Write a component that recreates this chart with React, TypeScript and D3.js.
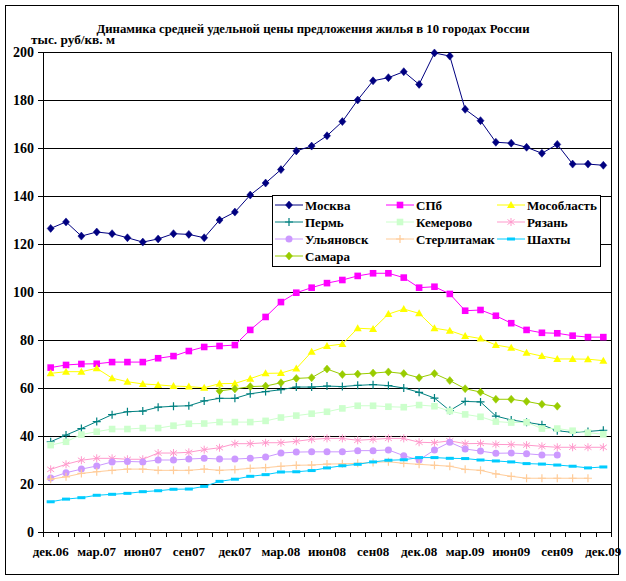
import React from "react";
import * as d3 from "d3";

const categories = [
  "дек.06","янв.07","фев.07","мар.07","апр.07","май.07","июн07","июл.07","авг.07","сен07","окт.07","ноя.07",
  "дек07","янв.08","фев.08","мар.08","апр.08","май.08","июн08","июл.08","авг.08","сен08","окт.08","ноя.08",
  "дек.08","янв.09","фев.09","мар.09","апр.09","май.09","июн09","июл.09","авг.09","сен09","окт.09","ноя.09","дек.09",
];
const tickLabels = ["дек.06","мар.07","июн07","сен07","дек07","мар.08","июн08","сен08","дек.08","мар.09","июн09","сен09","дек.09"];
const yTicks = [0, 20, 40, 60, 80, 100, 120, 140, 160, 180, 200];

const moscow = [126.5,129.2,123.3,125,124.3,122.6,120.8,122.1,124.3,124,122.6,130,133.3,140.4,145.4,151,158.8,160.8,165.1,171,180,188,189.3,191.8,186.5,199.6,198.3,176.1,171.4,162.4,162,160.3,157.8,161.5,153.3,153.3,152.8];
const spb = [68.5,69.6,70,70.1,70.8,70.8,70.8,72.4,73.3,75.4,77.1,77.5,77.9,84.2,89.6,95.8,99.7,101.8,103.7,105,106.7,107.8,107.8,106,101.8,102.2,99.2,92.2,92.5,90.1,87,84.2,83,82.8,81.8,81.2,81.2];
const mosobl = [66.1,66.8,66.8,68.2,64.1,62.6,61.7,61.3,60.8,60.6,60.1,61.8,61.9,63.9,66.1,66.2,68.1,75.1,77.5,78.3,84.9,84.6,90.8,92.9,91.1,84.9,83.9,81.7,80.6,77.9,76.8,74.7,73.3,72.1,72.1,72,71.4];
const perm = [37.6,40.4,43.1,46,48.9,50.1,50.4,52,52.4,52.6,54.6,55.7,55.7,57.6,58.5,59.3,60.4,60.4,60.8,60.6,61.1,61.4,61,60,58.2,55.8,50.6,54.4,54.2,48.3,46.7,45.7,44.7,42.2,41.5,41.9,42.4];
const kemerovo = [36.2,37.6,40.6,41.8,42.9,42.9,43.3,43.3,44.3,45.1,45.2,45.8,45.8,45.8,46.3,47.7,48.5,49.3,50.1,51.5,52.6,52.6,52.2,52,52.9,52.4,50.4,49,48,46,45.6,45.7,43.1,43.1,42.2,41.4,40.7];
const ryazan = [26.1,28.2,29.9,30.7,30.7,30.3,30.3,32.9,32.9,33.2,34.3,35.1,36.8,36.8,37.2,37.2,37.8,38.6,39,39,38.2,38.6,39,39,37.4,37.2,38,36.8,36.9,36.5,36.4,36.2,35.7,35.3,35.3,35.3,35.3];
const ulyanovsk = [22.5,24.7,26.2,27.5,29.2,29.4,29.2,30,30,30.4,30.7,30.4,30.4,30.7,31.2,32.9,33.3,33.4,33.4,33.4,33.9,33.9,34.2,31.8,30,34.2,37.4,34.6,33.7,32.8,32.9,32.6,32.1,32.1,null,null,null];
const sterlitamak = [22,23,24.4,25.1,25.7,26.2,26.2,25.7,25.7,25.7,26.2,25.7,26,26.5,26.8,27.4,27.8,27.9,28.3,28.4,28.6,29,29.3,28.6,28.2,27.8,27.4,26.1,25.7,24.2,23.2,22.4,22.4,22.4,22.4,22.4,null];
const shakhty = [12.6,13.7,14.3,15.3,15.7,16.1,16.8,17.2,17.8,17.9,19,21.1,22,23.2,23.9,25,25.1,25.6,26.7,27.6,28.2,29.2,29.9,30.1,31,31,30.7,30.6,30,29.6,29.2,28.5,28.3,27.9,27.4,26.7,27.1];
const samara = [null,null,null,null,null,null,null,null,null,null,null,58.8,59.6,60.6,60.8,62.2,64,64.3,67.9,65.6,65.8,66.2,66.7,66,64.3,66,63.1,59.7,58.3,55.3,55.3,54.4,53.2,52.4,null,null,null];

type Shape = "diamond" | "square" | "triangle" | "plus" | "star" | "circle" | "dash";
const seriesNames = ["Москва","СПб","Мособласть","Пермь","Кемерово","Рязань","Ульяновск","Стерлитамак","Шахты","Самара"];
const seriesValues = [moscow, spb, mosobl, perm, kemerovo, ryazan, ulyanovsk, sterlitamak, shakhty, samara];
const seriesColors = ["#000080","#FF00FF","#FFFF00","#008080","#CCFFCC","#FF99CC","#CC99FF","#FFCC99","#00CCFF","#99CC00"];
const seriesShapes: Shape[] = ["diamond","square","triangle","plus","square","star","circle","plus","dash","diamond"];

const FONT = '"Liberation Serif", "Times New Roman", serif';

function Marker({ shape, x, y, color }: { shape: Shape; x: number; y: number; color: string }) {
  switch (shape) {
    case "diamond":
      return <path d={`M${x},${y - 4}L${x + 3.5},${y}L${x},${y + 4}L${x - 3.5},${y}Z`} fill={color} stroke={color} strokeWidth={0.5} />;
    case "square":
      return <rect x={x - 3.3} y={y - 3.3} width={6.6} height={6.6} fill={color} />;
    case "triangle":
      return <path d={`M${x},${y - 4}L${x + 4},${y + 3}L${x - 4},${y + 3}Z`} fill={color} />;
    case "plus":
      return <path d={`M${x - 4},${y}H${x + 4}M${x},${y - 4}V${y + 4}`} stroke={color} strokeWidth={1.2} fill="none" />;
    case "star":
      return <path d={`M${x},${y - 4}V${y + 4}M${x - 3.5},${y - 2.5}L${x + 3.5},${y + 2.5}M${x - 3.5},${y + 2.5}L${x + 3.5},${y - 2.5}`} stroke={color} strokeWidth={1} fill="none" />;
    case "circle":
      return <circle cx={x} cy={y} r={3.5} fill={color} />;
    case "dash":
      return <rect x={x - 4} y={y - 1.5} width={8} height={3} fill={color} />;
  }
  return null;
}

const textStyle: React.CSSProperties = { fontFamily: FONT, fontWeight: 700 };

export default function App() {
  const W = 626, H = 581;
  const left = 43, right = 611, top = 52, bottom = 532;
  const x = d3.scaleBand<string>().domain(categories).range([left, right]).padding(0);
  const y = d3.scaleLinear().domain([0, 200]).range([bottom, top]);
  const cx = (c: string) => (x(c) as number) + x.bandwidth() / 2;

  const line = d3
    .line<number | null>()
    .defined((d) => d != null)
    .x((_, i) => cx(categories[i]))
    .y((d) => y(d as number));

  const legendX = [275, 386, 497];
  const legendY = [205, 222, 239, 256];

  return (
    <svg width={W} height={H} style={{ position: "absolute", left: 0, top: 0, background: "#fff", fontFamily: FONT }}>
      <rect x={0} y={0} width={W} height={H} fill="#fff" />
      <rect x={5.5} y={5.5} width={613} height={569} fill="#fff" stroke="#000" strokeWidth={1} />

      <text x={313} y={33} textAnchor="middle" fontSize={12} style={textStyle} textLength={433} lengthAdjust="spacingAndGlyphs">
        Динамика средней удельной цены предложения жилья в 10 городах России
      </text>
      <text x={31} y={44} fontSize={12.5} style={textStyle} textLength={84} lengthAdjust="spacingAndGlyphs">
        тыс. руб/кв. м
      </text>

      {yTicks.map((t) => (
        <g key={t}>
          <line x1={left} x2={right} y1={Math.round(y(t)) + 0.5} y2={Math.round(y(t)) + 0.5} stroke="#000" strokeWidth={1} />
          <line x1={left - 5} x2={left} y1={Math.round(y(t)) + 0.5} y2={Math.round(y(t)) + 0.5} stroke="#000" strokeWidth={1} />
          <text x={34} y={y(t) + 4.5} textAnchor="end" fontSize={14} style={textStyle}>
            {t}
          </text>
        </g>
      ))}
      <line x1={left + 0.5} x2={left + 0.5} y1={top} y2={bottom} stroke="#000" />
      <line x1={right + 0.5} x2={right + 0.5} y1={top} y2={bottom} stroke="#000" />

      {categories.map((c) => (
        <line key={c} x1={Math.round(x(c) as number) + 0.5} x2={Math.round(x(c) as number) + 0.5} y1={bottom} y2={bottom + 5} stroke="#000" />
      ))}
      <line x1={right + 0.5} x2={right + 0.5} y1={bottom} y2={bottom + 5} stroke="#000" />
      {categories.map((c, i) =>
        i % 3 === 0 ? (
          <text key={c} x={cx(c)} y={556} textAnchor="middle" fontSize={13} style={textStyle}>
            {tickLabels[i / 3]}
          </text>
        ) : null
      )}

      {seriesValues.map((vals, si) => (
        <g key={seriesNames[si]}>
          <path d={line(vals) || ""} fill="none" stroke={seriesColors[si]} strokeWidth={1} />
          {vals.map((v, i) =>
            v == null ? null : (
              <Marker key={i} shape={seriesShapes[si]} x={cx(categories[i])} y={y(v)} color={seriesColors[si]} />
            )
          )}
        </g>
      ))}

      <rect x={272.5} y={195.5} width={328} height={71} fill="#fff" stroke="#000" strokeWidth={1} />
      {seriesNames.map((name, si) => {
        const lx = legendX[si % 3];
        const ly = legendY[Math.floor(si / 3)];
        return (
          <g key={name}>
            <line x1={lx} x2={lx + 28} y1={ly} y2={ly} stroke={seriesColors[si]} strokeWidth={1} />
            <Marker shape={seriesShapes[si]} x={lx + 14} y={ly} color={seriesColors[si]} />
            <text x={lx + 30} y={ly + 4.5} fontSize={13} style={textStyle}>
              {name}
            </text>
          </g>
        );
      })}
    </svg>
  );
}
